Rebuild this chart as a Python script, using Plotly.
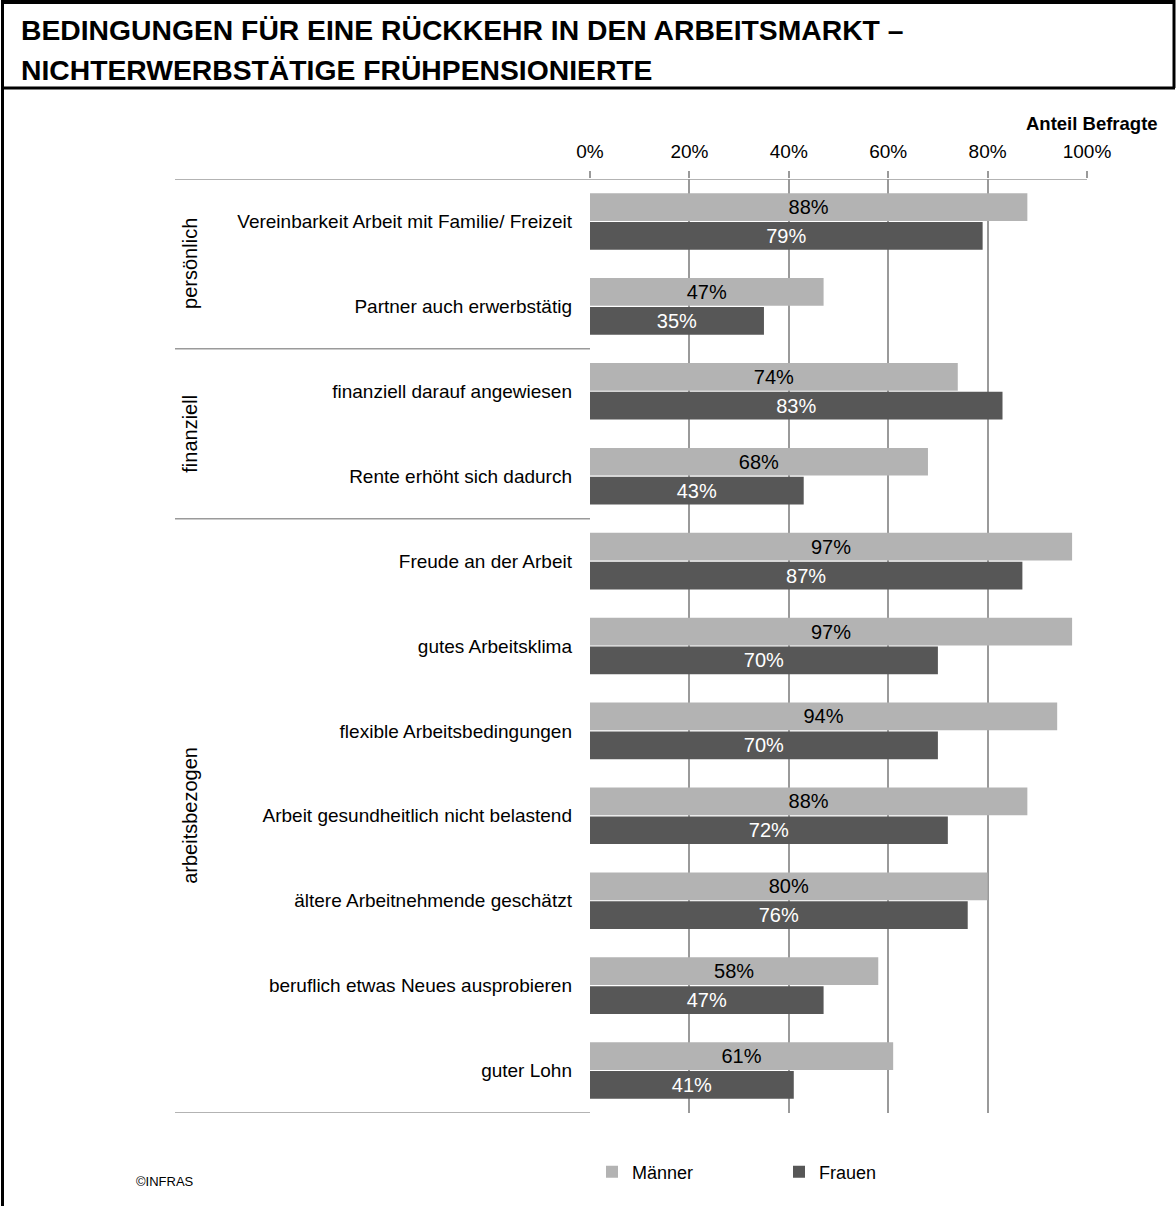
import plotly.graph_objects as go

categories = [
    "Vereinbarkeit Arbeit mit Familie/ Freizeit",
    "Partner auch erwerbstätig",
    "finanziell darauf angewiesen",
    "Rente erhöht sich dadurch",
    "Freude an der Arbeit",
    "gutes Arbeitsklima",
    "flexible Arbeitsbedingungen",
    "Arbeit gesundheitlich nicht belastend",
    "ältere Arbeitnehmende geschätzt",
    "beruflich etwas Neues ausprobieren",
    "guter Lohn",
]
maenner = [88, 47, 74, 68, 97, 97, 94, 88, 80, 58, 61]
frauen = [79, 35, 83, 43, 87, 70, 70, 72, 76, 47, 41]
groups = ["persönlich", "finanziell", "arbeitsbezogen"]
group_sizes = [2, 2, 7]
tick_values = [0, 20, 40, 60, 80, 100]
tick_labels = ["0%", "20%", "40%", "60%", "80%", "100%"]

W, H = 1176, 1206
ML, MR, MT, MB = 590, 89, 179, 93
PW = W - ML - MR
PH = H - MT - MB
FONT = "Arial, Liberation Sans, sans-serif"
GRID = "#9a9a9a"


def px_x(px):
    return (px - ML) / PW


def px_y(py):
    return (H - MB - py) / PH


fig = go.Figure()
fig.add_trace(go.Bar(
    y=categories, x=maenner, orientation="h", name="Männer",
    marker=dict(color="#b3b3b3", line=dict(width=0)),
    text=[f"{v}%" for v in maenner], textposition="inside",
    insidetextanchor="middle", constraintext="none",
    textfont=dict(color="black", size=20, family=FONT),
))
fig.add_trace(go.Bar(
    y=categories, x=frauen, orientation="h", name="Frauen",
    marker=dict(color="#575757", line=dict(width=0)),
    text=[f"{v}%" for v in frauen], textposition="inside",
    insidetextanchor="middle", constraintext="none",
    textfont=dict(color="white", size=20, family=FONT),
))

shapes = []
# group separators
bounds = [-0.5]
for s in group_sizes:
    bounds.append(bounds[-1] + s)
for i, b in enumerate(bounds):
    x1 = 1 if i == 0 else 0
    shapes.append(dict(type="line", xref="paper", yref="y", x0=px_x(175), x1=x1,
                       y0=b, y1=b, line=dict(color=GRID, width=1.5), layer="above"))
# frame
frame = dict(color="black", width=3)
shapes += [
    dict(type="line", xref="paper", yref="paper", x0=px_x(1), x1=px_x(1175), y0=px_y(2), y1=px_y(2), line=dict(color="black", width=4)),
    dict(type="line", xref="paper", yref="paper", x0=px_x(1), x1=px_x(1175), y0=px_y(88), y1=px_y(88), line=frame),
    dict(type="line", xref="paper", yref="paper", x0=px_x(1174), x1=px_x(1174), y0=px_y(0), y1=px_y(88), line=frame),
    dict(type="line", xref="paper", yref="paper", x0=px_x(2.5), x1=px_x(2.5), y0=px_y(0), y1=px_y(1206), line=frame),
]

annotations = []
# group labels
start = 0
for g, s in zip(groups, group_sizes):
    mid = start + (s - 1) / 2
    annotations.append(dict(text=g, xref="paper", yref="y", x=px_x(190), y=mid,
                            textangle=-90, showarrow=False, xanchor="center", yanchor="middle",
                            font=dict(size=20, family=FONT, color="black")))
    start += s
annotations += [
    dict(text="<b>BEDINGUNGEN FÜR EINE RÜCKKEHR IN DEN ARBEITSMARKT –</b>", xref="paper", yref="paper",
         x=px_x(19), y=px_y(30), xanchor="left", yanchor="middle", showarrow=False,
         font=dict(size=28.3, family=FONT, color="black")),
    dict(text="<b>NICHTERWERBSTÄTIGE FRÜHPENSIONIERTE</b>", xref="paper", yref="paper",
         x=px_x(19), y=px_y(70), xanchor="left", yanchor="middle", showarrow=False,
         font=dict(size=28.3, family=FONT, color="black")),
    dict(text="<b>Anteil Befragte</b>", xref="paper", yref="paper",
         x=px_x(1160), y=px_y(123), xanchor="right", yanchor="middle", showarrow=False,
         font=dict(size=18.5, family=FONT, color="black")),
    dict(text="©INFRAS", xref="paper", yref="paper",
         x=px_x(134), y=px_y(1181), xanchor="left", yanchor="middle", showarrow=False,
         font=dict(size=13, family=FONT, color="black")),
]

fig.update_layout(
    width=W, height=H,
    margin=dict(l=ML, r=MR, t=MT, b=MB),
    paper_bgcolor="white", plot_bgcolor="white",
    barmode="group", bargap=0.32, bargroupgap=0.04,
    font=dict(family=FONT, size=18, color="black"),
    shapes=shapes, annotations=annotations,
    showlegend=True,
    legend=dict(orientation="h", x=px_x(592), y=px_y(1172), xanchor="left", yanchor="middle",
                font=dict(size=18, family=FONT), entrywidth=142, traceorder="normal",
                bgcolor="rgba(0,0,0,0)"),
    xaxis=dict(side="top", range=[0, 100], tickvals=tick_values, ticktext=tick_labels,
               showgrid=True, gridcolor=GRID, gridwidth=1.5, zeroline=False,
               ticks="outside", ticklen=7, tickcolor=GRID, tickwidth=1.5,
               ticklabelstandoff=5, showline=False, fixedrange=True,
               tickfont=dict(size=19, family=FONT)),
    yaxis=dict(type="category", range=[10.5, -0.5], showgrid=False, zeroline=False,
               ticks="", ticklabelstandoff=17, showline=False, fixedrange=True,
               tickfont=dict(size=19, family=FONT)),
)

fig.write_html("out.html", config={"displayModeBar": False},
               post_script="document.body.style.margin='0';document.body.style.overflow='hidden';")
